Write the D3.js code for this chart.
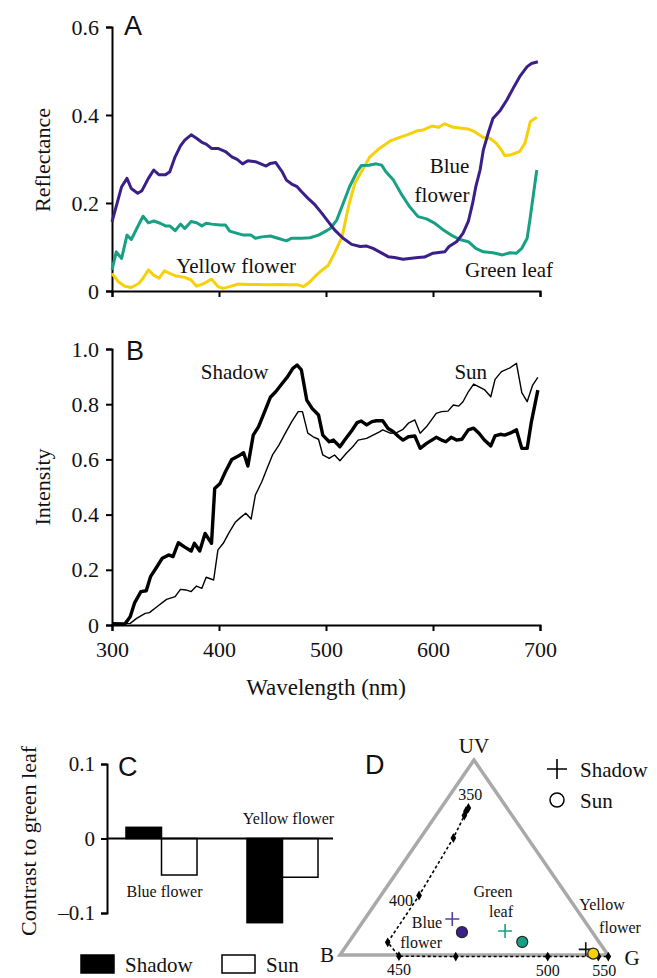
<!DOCTYPE html>
<html lang="en">
<head>
<meta charset="UTF-8" />
<script src="https://d3js.org/d3.v7.min.js"></script>
<title>Flower contrast</title>
<style>
  body { margin: 0; background: #fff; }
  text { font-family: "Liberation Serif", "Times New Roman", serif; fill: #111; }
  .panel { font-family: "Liberation Sans", Arial, sans-serif; font-size: 27px; }
  .axis path, .axis line { stroke: #000; stroke-width: 2; }
</style>
</head>
<body>
<script>
// ---- data ----
// panel A: reflectance spectra [wavelength nm, reflectance]
var blueFlower = [[300,.157],[309,.237],[314,.256],[318,.233],[324,.222],[328,.228],[334,.256],[339,.275],[344,.264],[350,.264],[354,.271],[359,.305],[364,.330],[368,.343],[374,.355],[379,.347],[384,.338],[388,.334],[393,.324],[399,.324],[406,.317],[412,.305],[417,.299],[422,.289],[427,.296],[434,.294],[438,.290],[444,.284],[448,.290],[453,.292],[459,.271],[463,.252],[468,.243],[473,.237],[477,.226],[483,.211],[490,.195],[496,.177],[501,.161],[508,.139],[516,.120],[524,.106],[532,.101],[538,.102],[544,.097],[550,.089],[558,.078],[564,.076],[572,.072],[578,.074],[586,.076],[592,.077],[600,.086],[611,.089],[615,.101],[622,.112],[628,.131],[633,.158],[637,.199],[640,.237],[644,.275],[647,.320],[652,.362],[656,.392],[663,.411],[669,.434],[675,.461],[681,.487],[688,.510],[692,.517],[698,.521]];
var greenLeaf = [[300,.048],[304,.089],[309,.074],[314,.127],[318,.117],[324,.146],[329,.170],[334,.155],[339,.159],[345,.154],[350,.148],[354,.148],[359,.137],[364,.152],[368,.142],[374,.158],[379,.155],[384,.148],[388,.154],[393,.152],[401,.150],[406,.150],[410,.136],[417,.131],[423,.127],[430,.127],[434,.120],[440,.123],[448,.125],[455,.120],[463,.114],[468,.120],[477,.120],[485,.121],[493,.127],[499,.135],[504,.142],[510,.161],[516,.199],[522,.237],[529,.271],[533,.285],[540,.286],[547,.289],[552,.286],[556,.271],[563,.252],[570,.222],[578,.192],[586,.169],[594,.164],[601,.155],[609,.140],[617,.127],[625,.117],[633,.112],[640,.097],[647,.089],[656,.087],[665,.082],[672,.087],[678,.086],[683,.097],[688,.120],[691,.169],[694,.222],[697,.275]];
var yellowFlower = [[300,.040],[306,.021],[312,.011],[318,.008],[325,.017],[329,.029],[334,.048],[339,.036],[344,.029],[349,.046],[354,.040],[360,.034],[368,.031],[374,.025],[379,.011],[385,.016],[393,.027],[399,.010],[404,.006],[410,.010],[418,.016],[427,.015],[437,.015],[446,.014],[455,.015],[465,.014],[474,.014],[479,.010],[485,.021],[491,.036],[497,.049],[502,.058],[508,.086],[515,.123],[521,.192],[527,.245],[535,.279],[541,.305],[550,.324],[560,.341],[569,.349],[577,.356],[585,.364],[591,.366],[599,.375],[605,.372],[611,.380],[619,.372],[627,.370],[633,.368],[639,.362],[647,.349],[653,.347],[659,.336],[664,.320],[667,.308],[672,.309],[681,.317],[686,.336],[691,.385],[697,.395]];

// panel B: irradiance spectra [wavelength nm, intensity]
var shadowLight = [[300,.005],[312,.004],[317,.030],[321,.079],[327,.121],[332,.124],[336,.175],[342,.211],[347,.242],[353,.254],[357,.248],[362,.298],[368,.282],[374,.268],[377,.296],[382,.268],[387,.332],[393,.296],[396,.495],[401,.513],[406,.555],[412,.600],[418,.612],[423,.624],[427,.576],[432,.688],[437,.719],[442,.767],[448,.825],[453,.845],[459,.875],[464,.899],[469,.930],[473,.942],[477,.924],[482,.815],[487,.785],[493,.761],[497,.688],[503,.664],[507,.670],[513,.646],[518,.673],[524,.704],[529,.733],[533,.739],[538,.725],[543,.737],[547,.740],[553,.740],[558,.712],[563,.700],[568,.682],[572,.670],[577,.682],[583,.685],[588,.640],[594,.658],[603,.680],[608,.670],[612,.664],[617,.680],[622,.670],[627,.673],[633,.707],[638,.713],[643,.695],[648,.670],[654,.649],[658,.685],[663,.691],[667,.688],[672,.695],[678,.707],[683,.640],[688,.640],[692,.737],[698,.851]];
var sunLight = [[300,.004],[317,.006],[323,.024],[331,.042],[335,.045],[342,.066],[351,.093],[359,.103],[364,.129],[369,.127],[374,.121],[379,.141],[384,.133],[388,.173],[395,.163],[399,.272],[404,.296],[409,.332],[415,.371],[420,.389],[425,.405],[430,.384],[434,.471],[440,.519],[445,.568],[450,.616],[456,.652],[462,.695],[468,.737],[474,.773],[478,.773],[483,.695],[488,.682],[493,.673],[497,.616],[503,.604],[508,.616],[513,.595],[519,.622],[525,.646],[530,.670],[538,.676],[544,.688],[550,.700],[553,.707],[560,.695],[566,.697],[572,.709],[577,.731],[583,.743],[588,.695],[594,.719],[603,.767],[608,.773],[614,.775],[619,.797],[624,.793],[628,.809],[633,.845],[638,.873],[643,.863],[648,.853],[654,.827],[658,.890],[664,.918],[672,.932],[678,.948],[683,.842],[688,.809],[693,.868],[698,.897]];

var wlTicks = [300, 400, 500, 600, 700];
var reflTicks = [0, 0.2, 0.4, 0.6];
var intTicks = [0, 0.2, 0.4, 0.6, 0.8, 1.0];

// panel C: contrast to green leaf
var flowers = ["Blue flower", "Yellow flower"];
var lights = ["Shadow", "Sun"];
var contrastShadow = [0.015, -0.113];
var contrastSun = [-0.049, -0.052];
var contrastTicks = [-0.1, 0, 0.1];

// panel D: colour triangle, [u along B-G, v toward UV]
var locus = [[0.479,0.754],[0.470,0.737],[0.464,0.715],[0.423,0.600],[0.295,0.305],[0.178,0.065],[0.220,-0.006],[0.432,-0.008],[0.775,-0.008],[0.964,-0.008],[1.001,-0.008]];
var locusLabels = [["350",0],["400",4],["450",6],["500",8],["550",10]];
var shadowPts = [[0.419,0.185],[0.616,0.123],[0.917,0.029]];
var sunPts = [[0.455,0.117],[0.680,0.067],[0.945,0.007]];
var objColors = ["#3b1f88", "#17a084", "#f6d10a"];
var shadowColors = ["#5a3ea0", "#17a084", "#111"];

var serif = '"Liberation Serif", "Times New Roman", serif';
var width = 657, height = 978;
var svg = d3.select("body").append("svg")
    .attr("width", width).attr("height", height)
    .style("background", "#fff");

function styleAxis(g, size) {
    g.attr("font-family", serif).attr("font-size", size);
    g.selectAll("text").style("font-family", serif).style("font-size", size + "px").attr("fill", "#111");
}

// ---------- panel A ----------
var x = d3.scaleLinear().domain([300, 700]).range([112, 540]);
var yA = d3.scaleLinear().domain([0, 0.6]).range([291, 27]);
var fmt = function (d) { return d === 0 ? "0" : d3.format(".1f")(d); };

svg.append("g").attr("class", "axis").attr("transform", "translate(0,291)")
    .call(d3.axisBottom(x).tickValues(wlTicks).tickSizeOuter(0).tickSize(6).tickFormat(""));
svg.append("g").attr("class", "axis").attr("transform", "translate(112,0)")
    .call(d3.axisLeft(yA).tickValues(reflTicks).tickSizeOuter(0).tickSize(6).tickPadding(7).tickFormat(fmt))
    .call(styleAxis, 22);

var lineA = d3.line().x(d => x(d[0])).y(d => yA(d[1]));
[[yellowFlower, objColors[2]], [greenLeaf, objColors[1]], [blueFlower, objColors[0]]].forEach(function (s) {
    svg.append("path").datum(s[0]).attr("d", lineA)
        .attr("fill", "none").attr("stroke", s[1]).attr("stroke-width", 3).attr("stroke-linejoin", "round");
});

svg.append("text").attr("class", "panel").attr("x", 124).attr("y", 35).text("A");
svg.append("text").attr("transform", "translate(50,160) rotate(-90)").attr("text-anchor", "middle")
    .style("font-size", "22px").text("Reflectance");
svg.append("text").attr("x", x(360)).attr("y", yA(0.042)).style("font-size", "21px").text("Yellow flower");
svg.append("text").attr("x", x(634)).attr("y", yA(0.269)).attr("text-anchor", "end").style("font-size", "21px").text("Blue");
svg.append("text").attr("x", x(634)).attr("y", yA(0.202)).attr("text-anchor", "end").style("font-size", "21px").text("flower");
svg.append("text").attr("x", x(630)).attr("y", yA(0.032)).style("font-size", "21px").text("Green leaf");

// ---------- panel B ----------
var yB = d3.scaleLinear().domain([0, 1]).range([625, 349]);
svg.append("g").attr("class", "axis").attr("transform", "translate(0,625)")
    .call(d3.axisBottom(x).tickValues(wlTicks).tickSizeOuter(0).tickSize(6).tickPadding(10))
    .call(styleAxis, 22);
svg.append("g").attr("class", "axis").attr("transform", "translate(112,0)")
    .call(d3.axisLeft(yB).tickValues(intTicks).tickSizeOuter(0).tickSize(6).tickPadding(7).tickFormat(fmt))
    .call(styleAxis, 22);

var lineB = d3.line().x(d => x(d[0])).y(d => yB(d[1]));
svg.append("path").datum(sunLight).attr("d", lineB)
    .attr("fill", "none").attr("stroke", "#000").attr("stroke-width", 1.4).attr("stroke-linejoin", "round");
svg.append("path").datum(shadowLight).attr("d", lineB)
    .attr("fill", "none").attr("stroke", "#000").attr("stroke-width", 3.4).attr("stroke-linejoin", "round");

svg.append("text").attr("class", "panel").attr("x", 126).attr("y", 360).text("B");
svg.append("text").attr("transform", "translate(50,487) rotate(-90)").attr("text-anchor", "middle")
    .style("font-size", "22px").text("Intensity");
svg.append("text").attr("x", x(383)).attr("y", yB(0.892)).style("font-size", "21px").text("Shadow");
svg.append("text").attr("x", x(620)).attr("y", yB(0.892)).style("font-size", "21px").text("Sun");
svg.append("text").attr("x", x(500)).attr("y", 695).attr("text-anchor", "middle")
    .style("font-size", "23px").text("Wavelength (nm)");

// ---------- panel C ----------
var yC = d3.scaleLinear().domain([-0.1, 0.1]).range([913, 764]);
var xC = d3.scaleBand().domain(flowers).range([107, 337]).paddingInner(0.413).paddingOuter(0.157);
var xSub = d3.scaleBand().domain(lights).range([0, xC.bandwidth()]);

svg.append("g").attr("class", "axis").attr("transform", "translate(107,0)")
    .call(d3.axisLeft(yC).tickValues(contrastTicks).tickSizeOuter(0).tickSize(6).tickPadding(6)
        .tickFormat(d => d === 0 ? "0" : (d < 0 ? "\u2013" : "") + d3.format(".1f")(Math.abs(d))))
    .call(styleAxis, 21);

var barData = [];
flowers.forEach(function (f, i) {
    barData.push({ flower: f, light: "Shadow", v: contrastShadow[i] });
    barData.push({ flower: f, light: "Sun", v: contrastSun[i] });
});
svg.append("g").selectAll("rect").data(barData).enter().append("rect")
    .attr("x", d => xC(d.flower) + xSub(d.light))
    .attr("width", xSub.bandwidth())
    .attr("y", d => yC(Math.max(0, d.v)))
    .attr("height", d => Math.abs(yC(d.v) - yC(0)))
    .attr("fill", d => d.light === "Shadow" ? "#000" : "#fff")
    .attr("stroke", "#000").attr("stroke-width", 1.5);

svg.append("line").attr("x1", 107).attr("x2", 333).attr("y1", yC(0)).attr("y2", yC(0))
    .attr("stroke", "#000").attr("stroke-width", 2);

svg.append("text").attr("class", "panel").attr("x", 118).attr("y", 776).text("C");
svg.append("text").attr("transform", "translate(36,841) rotate(-90)").attr("text-anchor", "middle")
    .style("font-size", "22px").text("Contrast to green leaf");
svg.append("text").attr("x", xC("Blue flower") + xC.bandwidth() / 2 + 3).attr("y", 897)
    .attr("text-anchor", "middle").style("font-size", "16px").text("Blue flower");
svg.append("text").attr("x", xC("Yellow flower") + xC.bandwidth() / 2 + 6).attr("y", 824)
    .attr("text-anchor", "middle").style("font-size", "16px").text("Yellow flower");

// legend C
var legC = svg.append("g");
lights.forEach(function (l, i) {
    var lx = i === 0 ? 81 : 222;
    legC.append("rect").attr("x", lx).attr("y", 955).attr("width", 33).attr("height", 18)
        .attr("fill", i === 0 ? "#000" : "#fff").attr("stroke", "#000").attr("stroke-width", 1.5);
    legC.append("text").attr("x", lx + 44).attr("y", 972).style("font-size", "21px").text(l);
});

// ---------- panel D ----------
var xD = d3.scaleLinear().domain([0, 1]).range([340, 608]);
var yD = d3.scaleLinear().domain([0, 1]).range([955, 760]);
var corners = [[0, 0], [0.5, 1], [1, 0]];
svg.append("path").datum(corners)
    .attr("d", d3.line().x(d => xD(d[0])).y(d => yD(d[1])).curve(d3.curveLinearClosed))
    .attr("fill", "none").attr("stroke", "#a9a9a9").attr("stroke-width", 3.5).attr("stroke-linejoin", "miter");

svg.append("path").datum(locus)
    .attr("d", d3.line().x(d => xD(d[0])).y(d => yD(d[1])))
    .attr("fill", "none").attr("stroke", "#000").attr("stroke-width", 1.6).attr("stroke-dasharray", "3,2.5");
svg.append("g").selectAll("path").data(locus).enter().append("path")
    .attr("d", d3.symbol().type(d3.symbolDiamond).size(28))
    .attr("transform", d => "translate(" + xD(d[0]) + "," + yD(d[1]) + ")")
    .attr("fill", "#000");

var labOff = { "350": [2, -8, "middle"], "400": [-6, 10, "end"], "450": [0, 19, "middle"], "500": [0, 19, "middle"], "550": [-4, 19, "middle"] };
locusLabels.forEach(function (l) {
    var p = locus[l[1]], o = labOff[l[0]];
    svg.append("text").attr("x", xD(p[0]) + o[0]).attr("y", yD(p[1]) + o[1])
        .attr("text-anchor", o[2]).style("font-size", "16px").text(l[0]);
});

shadowPts.forEach(function (p, i) {
    var cx = xD(p[0]), cy = yD(p[1]);
    svg.append("path").attr("d", "M" + (cx - 7) + "," + cy + "H" + (cx + 7) + "M" + cx + "," + (cy - 7) + "V" + (cy + 7))
        .attr("stroke", shadowColors[i]).attr("stroke-width", 1.6).attr("fill", "none");
});
svg.append("g").selectAll("circle").data(sunPts).enter().append("circle")
    .attr("cx", d => xD(d[0])).attr("cy", d => yD(d[1])).attr("r", 5.5)
    .attr("fill", (d, i) => objColors[i]).attr("stroke", "#222").attr("stroke-width", 1.2);

svg.append("text").attr("class", "panel").attr("x", 365).attr("y", 774).text("D");
svg.append("text").attr("x", xD(0.5)).attr("y", 753).attr("text-anchor", "middle").style("font-size", "21px").text("UV");
svg.append("text").attr("x", xD(0) - 13).attr("y", 962).attr("text-anchor", "middle").style("font-size", "21px").text("B");
svg.append("text").attr("x", xD(1) + 24).attr("y", 965).attr("text-anchor", "middle").style("font-size", "21px").text("G");

var dLabels = [["Blue", 442, 928, "end"], ["flower", 442, 948, "end"], ["Green", 493, 897, "middle"], ["leaf", 501, 917, "middle"], ["Yellow", 602, 910, "middle"], ["flower", 620, 933, "middle"]];
dLabels.forEach(function (l) {
    svg.append("text").attr("x", l[1]).attr("y", l[2]).attr("text-anchor", l[3]).style("font-size", "16px").text(l[0]);
});

// legend D
svg.append("path").attr("d", "M547,769H567M557,759V779").attr("stroke", "#000").attr("stroke-width", 1.6);
svg.append("circle").attr("cx", 557).attr("cy", 800).attr("r", 7).attr("fill", "#fff").attr("stroke", "#000").attr("stroke-width", 1.5);
svg.append("text").attr("x", 580).attr("y", 777).style("font-size", "21px").text("Shadow");
svg.append("text").attr("x", 580).attr("y", 808).style("font-size", "21px").text("Sun");
</script>
</body>
</html>
